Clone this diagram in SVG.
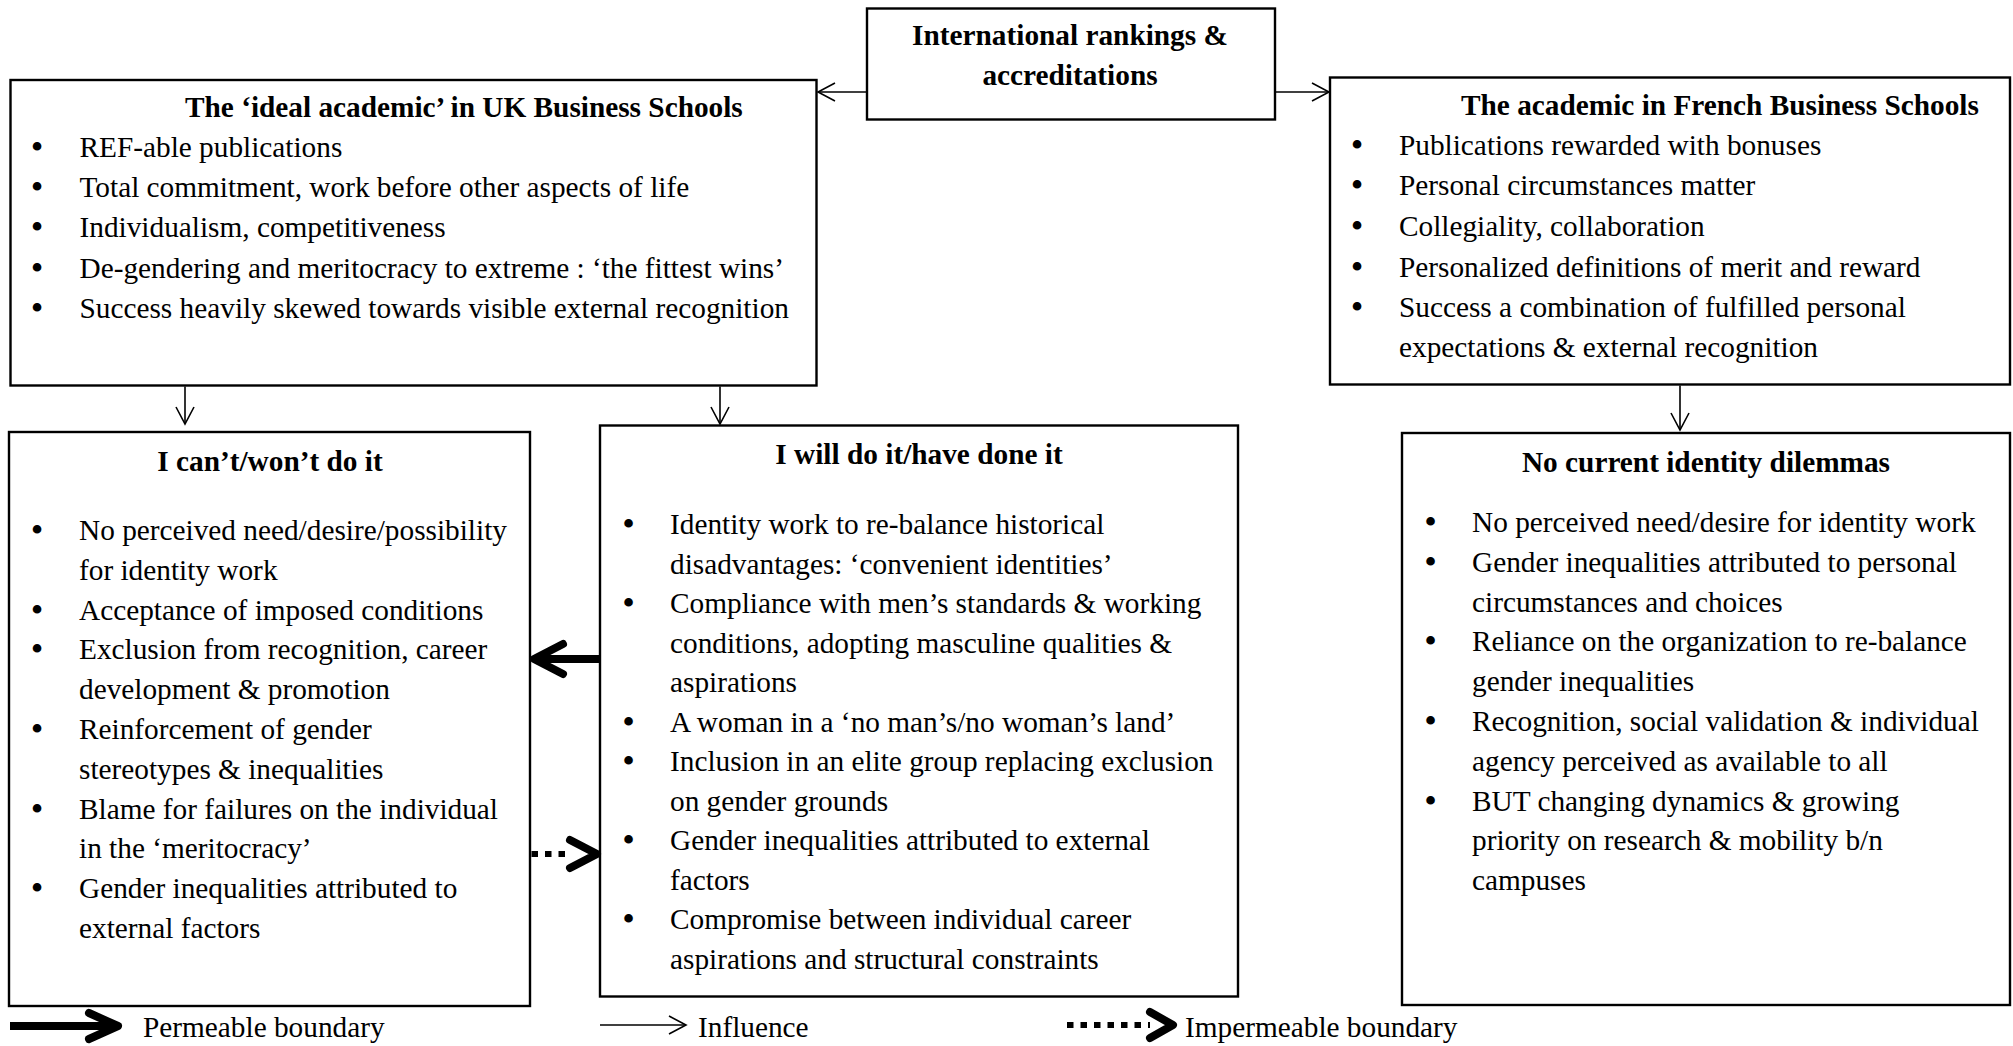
<svg xmlns="http://www.w3.org/2000/svg" width="2013" height="1046" viewBox="0 0 2013 1046">
  <style>
    .box { fill: #ffffff; stroke: #000000; stroke-width: 2.4; }
    .t { font-family: "Liberation Serif", "Times New Roman", serif; font-size: 29.3px; fill: #000000; }
    .h { font-weight: bold; }
    .c { text-anchor: middle; }
    .b { font-family: "Liberation Serif", "Times New Roman", serif; font-size: 36px; text-anchor: middle; fill: #000000; }
    .thin { fill: none; stroke: #000000; stroke-width: 1.6; }
    .thick { fill: none; stroke: #000000; stroke-width: 8; }
    .dots { fill: none; stroke: #000000; stroke-width: 6; stroke-dasharray: 6.5 7; }
    .chev { fill: none; stroke: #000000; stroke-width: 8; stroke-linecap: round; stroke-linejoin: round; }
  </style>
  <defs>
    <marker id="open" markerUnits="userSpaceOnUse" markerWidth="24" markerHeight="24" viewBox="-20 -12 24 24" refX="0" refY="0" orient="auto">
      <path d="M-17,-9 L0,0 L-17,9" fill="none" stroke="#000000" stroke-width="1.6"/>
    </marker>
  </defs>

  <rect width="2013" height="1046" fill="#ffffff"/>

  <!-- top driver -->
  <g id="rankings">
    <rect class="box" x="867" y="8.5" width="408" height="111"/>
    <text class="t h c" x="1070" y="45">International rankings &amp;</text>
    <text class="t h c" x="1070" y="85">accreditations</text>
  </g>

  <!-- UK ideal academic -->
  <g id="uk-ideal">
    <rect class="box" x="10.5" y="80" width="806" height="305.5"/>
    <text class="t h" x="185" y="117">The ‘ideal academic’ in UK Business Schools</text>
    <text class="b" x="37" y="159">•</text><text class="t" x="79.5" y="157">REF-able publications</text>
    <text class="b" x="37" y="199">•</text><text class="t" x="79.5" y="197">Total commitment, work before other aspects of life</text>
    <text class="b" x="37" y="239">•</text><text class="t" x="79.5" y="237">Individualism, competitiveness</text>
    <text class="b" x="37" y="280">•</text><text class="t" x="79.5" y="278">De-gendering and meritocracy to extreme : ‘the fittest wins’</text>
    <text class="b" x="37" y="320">•</text><text class="t" x="79.5" y="318">Success heavily skewed towards visible external recognition</text>
  </g>

  <!-- French academic -->
  <g id="french">
    <rect class="box" x="1330" y="77.5" width="680" height="307"/>
    <text class="t h" x="1461" y="115">The academic in French Business Schools</text>
    <text class="b" x="1357" y="157">•</text><text class="t" x="1399" y="155">Publications rewarded with bonuses</text>
    <text class="b" x="1357" y="197">•</text><text class="t" x="1399" y="195">Personal circumstances matter</text>
    <text class="b" x="1357" y="238">•</text><text class="t" x="1399" y="236">Collegiality, collaboration</text>
    <text class="b" x="1357" y="279">•</text><text class="t" x="1399" y="277">Personalized definitions of merit and reward</text>
    <text class="b" x="1357" y="319">•</text><text class="t" x="1399" y="317">Success a combination of fulfilled personal</text>
    <text class="t" x="1399" y="357">expectations &amp; external recognition</text>
  </g>

  <!-- can't / won't -->
  <g id="cant">
    <rect class="box" x="9" y="432" width="521" height="574"/>
    <text class="t h c" x="270" y="471">I can’t/won’t do it</text>
    <text class="b" x="37" y="542">•</text><text class="t" x="79" y="540">No perceived need/desire/possibility</text>
    <text class="t" x="79" y="579.8">for identity work</text>
    <text class="b" x="37" y="621.6">•</text><text class="t" x="79" y="619.6">Acceptance of imposed conditions</text>
    <text class="b" x="37" y="661.4">•</text><text class="t" x="79" y="659.4">Exclusion from recognition, career</text>
    <text class="t" x="79" y="699.2">development &amp; promotion</text>
    <text class="b" x="37" y="741">•</text><text class="t" x="79" y="739">Reinforcement of gender</text>
    <text class="t" x="79" y="778.8">stereotypes &amp; inequalities</text>
    <text class="b" x="37" y="820.6">•</text><text class="t" x="79" y="818.6">Blame for failures on the individual</text>
    <text class="t" x="79" y="858.4">in the ‘meritocracy’</text>
    <text class="b" x="37" y="900.2">•</text><text class="t" x="79" y="898.2">Gender inequalities attributed to</text>
    <text class="t" x="79" y="938">external factors</text>
  </g>

  <!-- will / have done -->
  <g id="will">
    <rect class="box" x="600" y="425.5" width="638" height="571"/>
    <text class="t h c" x="919" y="464">I will do it/have done it</text>
    <text class="b" x="628.6" y="536">•</text><text class="t" x="670" y="534">Identity work to re-balance historical</text>
    <text class="t" x="670" y="573.5">disadvantages: ‘convenient identities’</text>
    <text class="b" x="628.6" y="615">•</text><text class="t" x="670" y="613">Compliance with men’s standards &amp; working</text>
    <text class="t" x="670" y="652.5">conditions, adopting masculine qualities &amp;</text>
    <text class="t" x="670" y="692">aspirations</text>
    <text class="b" x="628.6" y="733.5">•</text><text class="t" x="670" y="731.5">A woman in a ‘no man’s/no woman’s land’</text>
    <text class="b" x="628.6" y="773">•</text><text class="t" x="670" y="771">Inclusion in an elite group replacing exclusion</text>
    <text class="t" x="670" y="810.5">on gender grounds</text>
    <text class="b" x="628.6" y="852">•</text><text class="t" x="670" y="850">Gender inequalities attributed to external</text>
    <text class="t" x="670" y="889.5">factors</text>
    <text class="b" x="628.6" y="931">•</text><text class="t" x="670" y="929">Compromise between individual career</text>
    <text class="t" x="670" y="968.5">aspirations and structural constraints</text>
  </g>

  <!-- no current dilemmas -->
  <g id="no-dilemmas">
    <rect class="box" x="1402" y="433" width="608" height="572"/>
    <text class="t h c" x="1706" y="472">No current identity dilemmas</text>
    <text class="b" x="1430.5" y="534">•</text><text class="t" x="1472" y="532">No perceived need/desire for identity work</text>
    <text class="b" x="1430.5" y="573.8">•</text><text class="t" x="1472" y="571.8">Gender inequalities attributed to personal</text>
    <text class="t" x="1472" y="611.6">circumstances and choices</text>
    <text class="b" x="1430.5" y="653.4">•</text><text class="t" x="1472" y="651.4">Reliance on the organization to re-balance</text>
    <text class="t" x="1472" y="691.2">gender inequalities</text>
    <text class="b" x="1430.5" y="733">•</text><text class="t" x="1472" y="731">Recognition, social validation &amp; individual</text>
    <text class="t" x="1472" y="770.8">agency perceived as available to all</text>
    <text class="b" x="1430.5" y="812.6">•</text><text class="t" x="1472" y="810.6">BUT changing dynamics &amp; growing</text>
    <text class="t" x="1472" y="850.4">priority on research &amp; mobility b/n</text>
    <text class="t" x="1472" y="890.2">campuses</text>
  </g>

  <!-- connectors -->
  <g id="connectors">
    <line class="thin" x1="867" y1="92" x2="818" y2="92" marker-end="url(#open)"/>
    <line class="thin" x1="1275" y1="92" x2="1329" y2="92" marker-end="url(#open)"/>
    <line class="thin" x1="185" y1="386.5" x2="185" y2="424" marker-end="url(#open)"/>
    <line class="thin" x1="720" y1="386.5" x2="720" y2="424" marker-end="url(#open)"/>
    <line class="thin" x1="1680" y1="385.5" x2="1680" y2="430" marker-end="url(#open)"/>
    <!-- permeable: will -> can't -->
    <line class="thick" x1="600" y1="659" x2="536" y2="659"/>
    <polyline class="chev" points="563,644 534,659 563,674"/>
    <!-- impermeable: can't -> will -->
    <line class="dots" x1="531.5" y1="854" x2="572" y2="854"/>
    <polyline class="chev" points="570,840 597,854 570,868"/>
  </g>

  <!-- key -->
  <g id="legend">
    <line class="thick" x1="10" y1="1026" x2="116" y2="1026"/>
    <polyline class="chev" points="89,1013 118,1026 89,1039"/>
    <text class="t" x="143" y="1037">Permeable boundary</text>
    <line class="thin" x1="600" y1="1025" x2="686" y2="1025" marker-end="url(#open)"/>
    <text class="t" x="698" y="1037">Influence</text>
    <line class="dots" x1="1067" y1="1025" x2="1150" y2="1025"/>
    <polyline class="chev" points="1150,1012 1173,1025 1150,1038"/>
    <text class="t" x="1185" y="1037">Impermeable boundary</text>
  </g>
</svg>
